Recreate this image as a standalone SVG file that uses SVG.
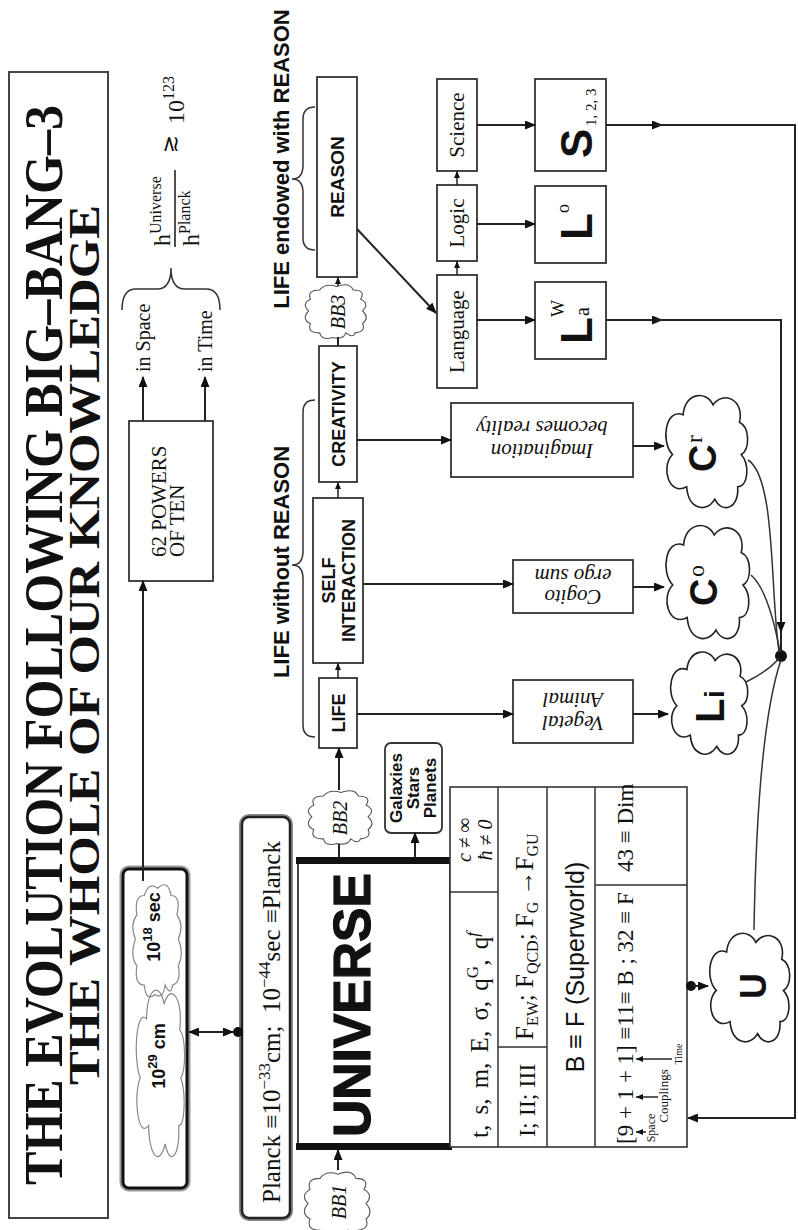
<svg xmlns="http://www.w3.org/2000/svg" width="798" height="1230" viewBox="0 0 798 1230">
<style>
 .bx{fill:#fff;stroke:#333;stroke-width:1.8}
 .ln{fill:none;stroke:#222;stroke-width:2}
 .ar{fill:none;stroke:#222;stroke-width:2;marker-end:url(#ah)}
 .as{fill:none;stroke:#222;stroke-width:1.5;marker-end:url(#ahs)}
 .thin{fill:none;stroke:#333;stroke-width:1.5}
 .sf{font-family:"Liberation Serif","Times New Roman",serif;fill:#111}
 .ss{font-family:"Liberation Sans",Arial,sans-serif;fill:#111}
 .b{font-weight:bold}
 .i{font-style:italic}
 .mid{text-anchor:middle}
 .cloud{fill:#fff;stroke:#222;stroke-width:1.6}
 .bb{fill:#fff;stroke:#555;stroke-width:1.1}
 .ghost{fill:none;stroke:#888;stroke-width:1.2}
 .dot{fill:#111}
</style>
<defs>
 <marker id="ah" markerWidth="11" markerHeight="9" refX="10" refY="4.5" orient="auto" markerUnits="userSpaceOnUse"><path d="M0,0 L11,4.5 L0,9 Z" fill="#111"/></marker>
 <marker id="ahs" markerWidth="7" markerHeight="6" refX="7" refY="3" orient="auto" markerUnits="userSpaceOnUse"><path d="M0,0 L7,3 L0,6 Z" fill="#111"/></marker>
 <!-- small-bump cloud, 100 x 70 -->
 <path id="puff" vector-effect="non-scaling-stroke" d="M14,46 Q2,44 6,32 Q0,20 14,18 Q14,4 30,8 Q38,-2 52,6 Q64,-2 72,8 Q88,4 88,18 Q100,24 94,36 Q102,50 88,54 Q88,68 72,62 Q64,72 52,64 Q40,72 30,64 Q16,68 14,56 Q4,54 14,46 Z"/>
 <!-- large-lobe cloud, 100 x 100 -->
 <path id="blob" vector-effect="non-scaling-stroke" d="M22,28 C14,8 38,-2 48,12 C58,-2 86,4 80,24 C98,26 100,50 88,58 C100,70 92,94 74,88 C70,100 52,100 48,90 C40,100 22,98 22,86 C4,88 0,68 12,60 C0,50 4,30 22,28 Z"/>
</defs>
<rect width="798" height="1230" fill="#fff"/>

<!-- whole chart is laid out landscape and turned a quarter turn -->
<g transform="translate(0,1230) rotate(-90)">

 <g id="title">
  <rect x="12" y="9" width="1146" height="99" fill="#fff" stroke="#444" stroke-width="2"/>
  <text class="sf b mid" x="585" y="62" font-size="54" textLength="1080" lengthAdjust="spacingAndGlyphs">THE EVOLUTION FOLLOWING BIG–BANG–3</text>
  <text class="sf b mid" x="585" y="99" font-size="44" textLength="880" lengthAdjust="spacingAndGlyphs">THE WHOLE OF OUR KNOWLEDGE</text>
 </g>

 <g id="cosmic-scale">
  <rect x="42" y="123" width="319" height="64" rx="6" fill="#fff" stroke="#999" stroke-width="7"/>
  <rect x="42" y="123" width="319" height="64" rx="6" fill="#fff" stroke="#111" stroke-width="3"/>
  <use href="#puff" class="ghost" transform="translate(228,131) scale(1.21,0.74)"/>
  <use href="#blob" class="ghost" transform="translate(64,134) scale(1.84,0.52)"/>
  <text class="ss b mid" x="303" y="160" font-size="18">10<tspan font-size="13" dy="-8">18</tspan><tspan dy="8"> sec</tspan></text>
  <text class="ss b mid" x="174" y="165" font-size="18">10<tspan font-size="13" dy="-8">29</tspan><tspan dy="8"> cm</tspan></text>
 </g>

 <g id="powers">
  <rect x="649" y="129" width="160" height="84" class="bx"/>
  <text class="sf" x="673" y="166" font-size="21">62 POWERS</text>
  <text class="sf" x="673" y="184" font-size="21">OF TEN</text>
  <text class="sf" x="858" y="150" font-size="20">in Space</text>
  <text class="sf" x="858" y="212" font-size="20">in Time</text>
 </g>

 <g id="ratio">
  <path class="thin" d="M920,122 Q941,122 941,136 L941,157 Q941,171 962,171 Q941,171 941,185 L941,206 Q941,220 920,220"/>
  <text class="sf" x="984" y="170" font-size="24">h<tspan font-size="16" dy="-9">Universe</tspan></text>
  <line x1="983" y1="175" x2="1060" y2="175" stroke="#222" stroke-width="1.6"/>
  <text class="sf" x="984" y="199" font-size="24">h<tspan font-size="16" dy="-9">Planck</tspan></text>
  <text x="1086" y="177" font-size="22" text-anchor="middle" font-family="DejaVu Sans, sans-serif" fill="#111">≳</text>
  <text class="sf" x="1106" y="184" font-size="24">10<tspan font-size="16" dy="-10">123</tspan></text>
 </g>

 <g id="planck">
  <rect x="12" y="242" width="401" height="48" rx="7" fill="#fff" stroke="#888" stroke-width="6"/>
  <rect x="12" y="242" width="401" height="48" rx="7" fill="#fff" stroke="#222" stroke-width="2.5"/>
  <text class="sf" x="27" y="280" font-size="25">Planck ≡10<tspan font-size="17" dy="-10">−33</tspan><tspan dy="10">cm;&#160; 10</tspan><tspan font-size="17" dy="-10">−44</tspan><tspan dy="10">sec ≡Planck</tspan></text>
 </g>

 <g id="universe">
  <rect x="83" y="298" width="287" height="152" class="bx"/>
  <rect x="80" y="296" width="7" height="156" fill="#111"/>
  <rect x="366" y="296" width="7" height="156" fill="#111"/>
  <text class="ss b" x="93" y="370" font-size="52" stroke="#111" stroke-width="1.2" textLength="264" lengthAdjust="spacingAndGlyphs">UNIVERSE</text>
 </g>

 <g id="properties-table">
  <rect x="83" y="450" width="360" height="237" fill="#fff" stroke="#333" stroke-width="1.6"/>
  <path class="thin" d="M83,498 H443 M83,547 H443 M83,595 H443 M338,450 V498 M183,498 V547 M345,595 V687"/>
  <text class="sf" x="92" y="488" font-size="25" word-spacing="4">t, s, m, E, σ, q<tspan font-size="17" dy="-10">G</tspan><tspan dy="10">, q</tspan><tspan font-size="17" dy="-10" font-style="italic">f</tspan></text>
  <text class="sf i mid" x="390" y="471" font-size="20">c ≠ ∞</text>
  <text class="sf i mid" x="390" y="492" font-size="20">ħ ≠ 0</text>
  <text class="sf" x="93" y="535" font-size="24">I; II; III</text>
  <text class="sf" x="190" y="533" font-size="25">F<tspan font-size="16" dy="5">EW</tspan><tspan dy="-5">; F</tspan><tspan font-size="16" dy="5">QCD</tspan><tspan dy="-5">; F</tspan><tspan font-size="16" dy="5">G</tspan><tspan dy="-5"> →F</tspan><tspan font-size="16" dy="5">GU</tspan></text>
  <text class="ss mid" x="263" y="584" font-size="25">B ≡ F (Superworld)</text>
  <text class="sf" x="86" y="633" font-size="23">[9 + 1 + 1] ≡11≡ B ; 32 ≡ F</text>
  <text class="sf" x="358" y="633" font-size="23">43 ≡ Dim</text>
  <text class="sf mid" x="102" y="655" font-size="12">Space</text>
  <text class="sf mid" x="134" y="668" font-size="13">Couplings</text>
  <text class="sf mid" x="176" y="682" font-size="10">Time</text>
 </g>

 <g id="bb1">
  <use href="#puff" class="bb" transform="translate(-10,302) scale(0.7,1)"/>
  <text class="sf i mid" x="28" y="346" font-size="20">BB1</text>
 </g>
 <g id="bb2">
  <use href="#puff" class="bb" transform="translate(383,306) scale(0.58,0.97)"/>
  <text class="sf i mid" x="412" y="347" font-size="20">BB2</text>
 </g>
 <g id="bb3">
  <use href="#puff" class="bb" transform="translate(889,303) scale(0.58,0.93)"/>
  <text class="sf i mid" x="918" y="345" font-size="20">BB3</text>
 </g>

 <g id="galaxies">
  <rect x="397" y="385" width="90" height="57" rx="6" class="bx"/>
  <text class="ss b mid" x="442" y="402" font-size="17">Galaxies</text>
  <text class="ss b mid" x="442" y="419" font-size="17">Stars</text>
  <text class="ss b mid" x="442" y="436" font-size="17">Planets</text>
 </g>

 <g id="life">
  <rect x="482" y="319" width="70" height="38" class="bx"/>
  <text class="ss b mid" x="517" y="345" font-size="18">LIFE</text>
 </g>
 <g id="self-interaction">
  <rect x="567" y="313" width="165" height="50" class="bx"/>
  <text class="ss b mid" x="649.5" y="335" font-size="18">SELF</text>
  <text class="ss b mid" x="649.5" y="355" font-size="18">INTERACTION</text>
 </g>
 <g id="creativity">
  <rect x="748" y="319" width="136" height="38" class="bx"/>
  <text class="ss b mid" x="816" y="345" font-size="18">CREATIVITY</text>
 </g>
 <g id="reason">
  <rect x="953" y="317" width="200" height="40" class="bx"/>
  <text class="ss b mid" x="1053" y="344" font-size="19">REASON</text>
 </g>

 <g id="life-without-reason">
  <path class="thin" d="M493,315 Q493,303 505,303 L651,303 Q665,303 665,292 Q665,303 679,303 L818,303 Q830,303 830,315"/>
  <text class="ss b mid" x="668" y="289" font-size="22">LIFE without REASON</text>
 </g>
 <g id="life-with-reason">
  <path class="thin" d="M980,315 Q980,303 992,303 L1037,303 Q1051,303 1051,292 Q1051,303 1065,303 L1111,303 Q1123,303 1123,315"/>
  <text class="ss b mid" x="1071" y="289" font-size="22">LIFE endowed with REASON</text>
 </g>

 <g id="language">
  <rect x="842" y="437" width="113" height="40" class="bx"/>
  <text class="sf mid" x="898.5" y="464" font-size="21">Language</text>
 </g>
 <g id="logic">
  <rect x="969" y="437" width="76" height="40" class="bx"/>
  <text class="sf mid" x="1007" y="464" font-size="21">Logic</text>
 </g>
 <g id="science">
  <rect x="1059" y="437" width="92" height="40" class="bx"/>
  <text class="sf mid" x="1105" y="464" font-size="21">Science</text>
 </g>

 <g id="la">
  <rect x="871" y="535" width="77" height="71" class="bx"/>
  <text class="ss b" x="886" y="592" font-size="44">L</text>
  <text class="sf" x="913" y="564" font-size="18">W</text>
  <text class="sf" x="914" y="589" font-size="20">a</text>
 </g>
 <g id="lo">
  <rect x="967" y="535" width="77" height="71" class="bx"/>
  <text class="ss b" x="990" y="592" font-size="44">L</text>
  <text class="sf" x="1017" y="569" font-size="18">o</text>
 </g>
 <g id="s123">
  <rect x="1059" y="535" width="92" height="71" class="bx"/>
  <text class="ss b" x="1072" y="592" font-size="44">S</text>
  <text class="sf" x="1104" y="596" font-size="15">1, 2, 3</text>
 </g>

 <!-- these three captions sit upside down on the page -->
 <g id="vegetal-animal">
  <rect x="487" y="513" width="63" height="120" class="bx"/>
  <g transform="rotate(-90 518.5 573)">
   <text class="sf i mid" x="518.5" y="569" font-size="21">Vegetal</text>
   <text class="sf i mid" x="518.5" y="592" font-size="21">Animal</text>
  </g>
 </g>
 <g id="cogito">
  <rect x="617" y="513" width="53" height="120" class="bx"/>
  <g transform="rotate(-90 643.5 573)">
   <text class="sf i mid" x="643.5" y="570" font-size="21">Cogito</text>
   <text class="sf i mid" x="643.5" y="591" font-size="21">ergo sum</text>
  </g>
 </g>
 <g id="imagination">
  <rect x="753" y="451" width="74" height="182" class="bx"/>
  <g transform="rotate(-90 790 542)">
   <text class="sf i mid" x="542" y="538" font-size="21" transform="translate(248,0)">Imagination</text>
   <text class="sf i mid" x="542" y="561" font-size="21" transform="translate(248,0)">becomes reality</text>
  </g>
 </g>

 <g id="cr">
  <use href="#blob" class="cloud" transform="translate(716,662) scale(1.24,0.88)"/>
  <text class="ss b" x="758" y="716" font-size="38">C</text>
  <text class="sf" x="787" y="702" font-size="24">r</text>
 </g>
 <g id="co">
  <use href="#blob" class="cloud" transform="translate(585,662) scale(1.25,0.9)"/>
  <text class="ss b" x="624" y="717" font-size="38">C</text>
  <text class="sf" x="653" y="704" font-size="24">o</text>
 </g>
 <g id="li">
  <use href="#blob" class="cloud" transform="translate(470,667) scale(1.13,0.83)"/>
  <text class="ss b" x="507" y="724" font-size="40">L</text>
  <text class="ss b" x="532" y="724" font-size="28">i</text>
 </g>
 <g id="u">
  <use href="#blob" class="cloud" transform="translate(182,706) scale(1.2,0.86)"/>
  <text class="ss b mid" x="244" y="766" font-size="36">U</text>
 </g>

 <g id="connectors">
  <path class="ar" d="M349,143 L649,143"/>
  <path class="ar" d="M809,143 L853,143"/>
  <path class="ar" d="M809,205 L853,205"/>
  <path class="ar" d="M198,212 L198,189"/>
  <path class="ar" d="M198,200 L198,233"/>
  <circle class="dot" cx="198" cy="238" r="5"/>
  <path class="ar" d="M60,338 L80,338"/>
  <path class="ln" d="M373,339 L386,339"/>
  <path class="ar" d="M440,339 L482,339"/>
  <path class="ar" d="M373,415 L397,415"/>
  <path class="as" d="M552,338 L567,338"/>
  <path class="as" d="M732,338 L748,338"/>
  <path class="ln" d="M884,338 L893,338"/>
  <path class="as" d="M944,338 L953,338"/>
  <path class="ar" d="M1001,357 L917,436"/>
  <path class="as" d="M955,457 L969,457"/>
  <path class="as" d="M1045,457 L1059,457"/>
  <path class="ar" d="M910,477 L910,535"/>
  <path class="ar" d="M1006,477 L1006,535"/>
  <path class="ar" d="M1105,477 L1105,535"/>
  <path class="ar" d="M516,357 L516,513"/>
  <path class="ar" d="M646,363 L646,513"/>
  <path class="ar" d="M790,357 L790,451"/>
  <path class="ar" d="M516,633 L516,668"/>
  <path class="ar" d="M643,633 L643,664"/>
  <path class="ar" d="M784,633 L784,664"/>
  <!-- science feedback loop back to the table -->
  <path class="ar" d="M1105,606 L1105,662"/>
  <path class="ln" d="M1105,655 L1105,795 L112,795 L112,700"/>
  <path class="ar" d="M112,705 L112,688"/>
  <!-- language output down to the junction -->
  <path class="ar" d="M910,606 L910,662"/>
  <path class="ln" d="M910,655 L910,781 L575,781"/>
  <path class="ar" d="M650,781 L598,781"/>
  <circle class="dot" cx="574" cy="781" r="6"/>
  <!-- cloud links into the junction -->
  <path class="thin" d="M770,748 C752,776 640,770 578,779"/>
  <path class="thin" d="M655,751 C640,768 600,776 578,780"/>
  <path class="thin" d="M548,746 C556,762 564,773 572,779"/>
  <path class="thin" d="M570,781 C520,764 420,756 300,754"/>
  <!-- table to U -->
  <circle class="dot" cx="244" cy="691" r="5"/>
  <path class="ar" d="M244,694 L244,708"/>
  <!-- pointers to the space / couplings / time digits -->
  <path class="as" d="M98,646 L98,636"/>
  <path class="as" d="M133,658 L133,636"/>
  <path class="as" d="M171,672 L171,636"/>
 </g>
</g>
</svg>
